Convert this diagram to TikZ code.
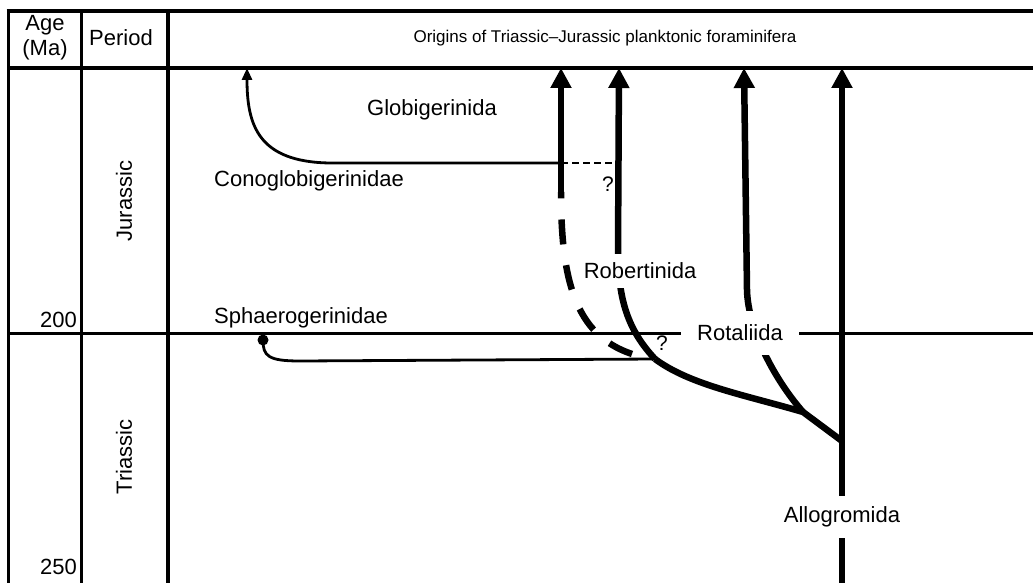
\documentclass[tikz,border=0pt]{standalone}
\usepackage{fontspec}
\setmainfont{Liberation Sans}
\usetikzlibrary{arrows.meta}
\begin{document}
\begin{tikzpicture}[x=1pt,y=-1pt,
  gridline/.style={line width=3pt},
  lineage/.style={line width=6.5pt, line join=round},
  thinline/.style={line width=2.8pt, line join=round},
  bigarrow/.style={-{Triangle[width=20pt,length=20pt]}},
  smallarrow/.style={-{Triangle[width=10pt,length=12pt]}},
  lbl/.style={font=\fontsize{22}{25}\selectfont, inner sep=0pt},
  mask/.style={lbl, fill=white},
  qmark/.style={font=\fontsize{21}{25}\selectfont, inner sep=0pt}
]
\useasboundingbox (0,0) rectangle (1033,583);
\fill[white] (0,0) rectangle (1033,583);

% ---- table frame ----
\draw[gridline] (8,583) -- (8,11);
\draw[line width=3.5pt] (6.5,11) -- (1033,11);
\draw[line width=4pt] (8,68) -- (1033,68);
\draw[gridline] (81,11) -- (81,583);
\draw[line width=4.5pt] (168,11) -- (168,583);
\draw[gridline] (8,333) -- (1033,333);

% ---- header ----
\node[lbl, align=center] (age) at (45,38) {Age\\(Ma)};
\node[lbl] (period) at (121,38) {Period};
\node[font=\fontsize{17}{20}\selectfont, inner sep=0pt] (title) at (605,38)
  {Origins of Triassic–Jurassic planktonic foraminifera};

% ---- age / period column ----
\node[lbl, anchor=east] (a200) at (77,320) {200};
\node[lbl, anchor=east] (a250) at (77,567) {250};
\node[lbl, rotate=90] (jur) at (124,201) {Jurassic};
\node[lbl, rotate=90] (tri) at (124,457) {Triassic};

% ---- named points ----
\coordinate (topA) at (561,68);
\coordinate (solidA) at (561,192);
\coordinate (dashEndA) at (632,354);
\coordinate (topB) at (619,68);
\coordinate (jR) at (655,359);
\coordinate (jC) at (803,412);
\coordinate (jD) at (842,441);
\coordinate (topC) at (744,68);
\coordinate (topD) at (842,68);
\coordinate (botD) at (842,583);
\coordinate (coneJ) at (561,163);
\coordinate (coneQ) at (619,163);
\coordinate (coneTop) at (247,68);
\node[circle, fill=black, inner sep=0pt, minimum size=11pt] (sphDot) at (263,340) {};

% ---- lineages ----
% Allogromida trunk
\draw[lineage,bigarrow] (botD) -- (topD);
% Rotaliida stem
\draw[lineage] (jD) -- (jC) .. controls (745,395) and (690,385) .. (jR);
% third arrow (Rotaliida)
\draw[lineage,bigarrow] (jC) .. controls (775,380) and (748,330) .. (747,290) -- (topC);
% Robertinida
\draw[lineage,bigarrow] (jR) .. controls (628,330) and (618,300) .. (618,250) -- (topB);
% Globigerinida (solid + dashed)
\draw[lineage,bigarrow] (solidA) -- (topA);
\draw[lineage, dash pattern=on 25pt off 21pt] (dashEndA) .. controls (575,335) and (561,280) .. (solidA);
% Conoglobigerinidae
\draw[thinline,smallarrow] (coneJ) -- (330,163) .. controls (258,162) and (247,125) .. (coneTop);
\draw[thinline, dash pattern=on 7pt off 4pt] (coneJ) -- (coneQ);
% Sphaerogerinidae
\draw[thinline] (jR) -- (300,361) .. controls (268,361) and (263,356) .. (sphDot.center);

% ---- labels ----
\node[lbl] (glob) at (432,110) {Globigerinida};
\node[lbl] (cono) at (309,181) {Conoglobigerinidae};
\node[lbl] (sphae) at (301,318) {Sphaerogerinidae};
\node[mask, inner xsep=3pt, inner ysep=9pt] (robe) at (640,271) {Robertinida};
\node[mask, inner xsep=16pt, inner ysep=14pt] (rota) at (740,333) {Rotaliida};
\node[mask, inner xsep=3pt, inner ysep=11pt] (allo) at (842,517) {Allogromida};
\node[qmark] (q1) at (608,184) {?};
\node[qmark] (q2) at (662,343) {?};
\end{tikzpicture}
\end{document}
